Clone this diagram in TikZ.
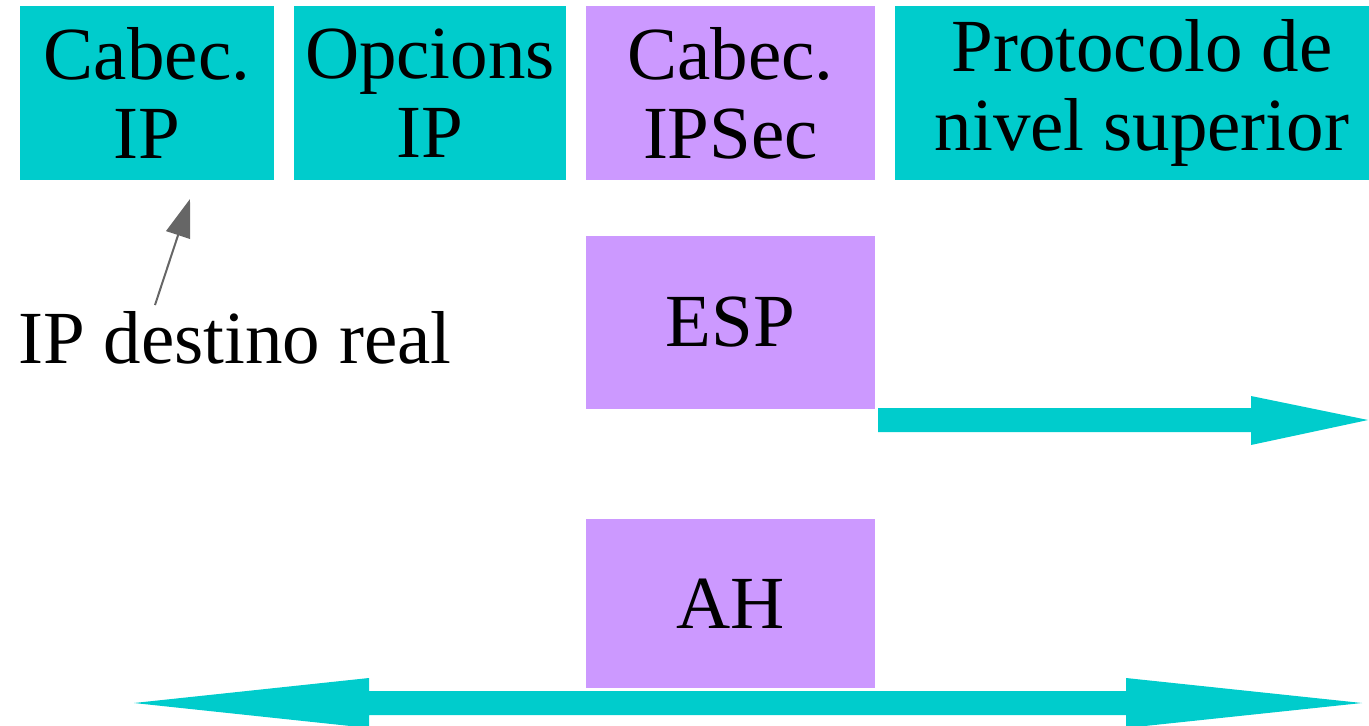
\documentclass[tikz,border=0pt]{standalone}
\usepackage{fontspec}
\setmainfont{Liberation Serif}
\usetikzlibrary{arrows.meta}
\definecolor{tealbox}{HTML}{00CCCC}
\definecolor{violetbox}{HTML}{CC99FF}
\definecolor{pointer}{HTML}{666666}
\tikzset{
  field/.style={rectangle, inner sep=0pt, outer sep=0pt, align=center,
    font=\fontsize{75}{79}\selectfont, text=black},
  tealfield/.style={field, fill=tealbox},
  violetfield/.style={field, fill=violetbox},
  bigarrow/.style={fill=tealbox, draw=none},
  thinarrow/.style={draw=pointer, line width=2pt, -{Triangle[length=38pt,width=25pt]}, fill=pointer},
  plain/.style={inner sep=0pt, font=\fontsize{75}{79}\selectfont}
}
\begin{document}
\begin{tikzpicture}[x=1pt,y=-1pt]
\useasboundingbox (0,0) rectangle (1369,726);
% top row
\node[tealfield, minimum width=254pt, minimum height=174pt] (cip) at (147,93) {Cabec.\\IP};
\node[tealfield, minimum width=272pt, minimum height=174pt] (oip) at (430,93) {Opcions\\IP};
\node[violetfield, minimum width=289pt, minimum height=174pt] (ipsec) at (730.5,93) {Cabec.\\IPSec};
\node[tealfield, minimum width=474pt, minimum height=174pt] (proto) at (1132,93) {\hspace*{20pt}Protocolo de\\\hspace*{20pt}nivel superior};
% middle/bottom boxes
\node[violetfield, minimum width=289pt, minimum height=173pt] (esp) at (730.5,322.5) {ESP};
\node[violetfield, minimum width=289pt, minimum height=169pt] (ah) at (730.5,603.5) {AH};
% label
\node[plain, anchor=base west] (dest) at (18,363) {IP destino real};
\coordinate (ptail) at (155,305);
\coordinate (phead) at (190,199);
\draw[thinarrow] (ptail) -- (phead);
% ESP arrow
\path[bigarrow] (878,408) -- (1251,408) -- (1251,396) -- (1368,420) -- (1251,445) -- (1251,432) -- (878,432) -- cycle;
% AH double arrow
\path[bigarrow] (134,703) -- (369,678) -- (369,691) -- (1126,691) -- (1126,678) -- (1362,703) -- (1126,728) -- (1126,715) -- (369,715) -- (369,728) -- cycle;
\end{tikzpicture}
\end{document}
